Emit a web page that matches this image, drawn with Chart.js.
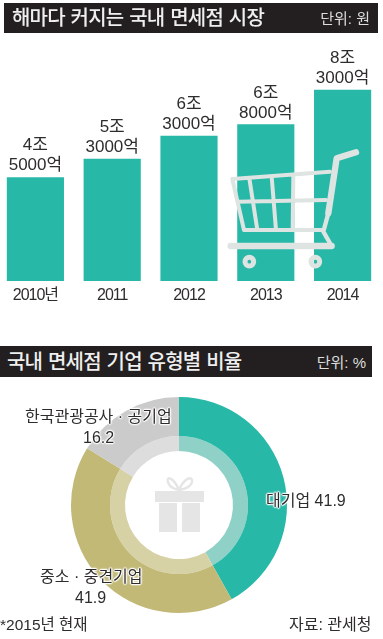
<!DOCTYPE html>
<html lang="ko"><head><meta charset="utf-8">
<script src="https://cdn.jsdelivr.net/npm/chart.js@4/dist/chart.umd.min.js"></script>
<style>
html,body{margin:0;padding:0;background:#fff;overflow:hidden;width:383px;height:639px}
body{position:relative;font-family:"Liberation Sans","Noto Sans CJK KR",sans-serif;color:#2e2c2c}
canvas{position:absolute}
.hd{position:absolute;background:#231f20;color:#efefef;z-index:3}
.t{position:absolute;white-space:nowrap;line-height:1;z-index:4}
.hd .t{color:#efefef}
.title{font-family:"Noto Sans CJK KR",sans-serif;font-size:20px;font-weight:500;letter-spacing:-.8px;word-spacing:1px}
.hd .unit{font-size:15px;color:#ddd}
.lab{font-size:16px;text-shadow:0 0 2px #fff,0 0 2px #fff,0 0 3px #fff,1px 0 1px #fff,-1px 0 1px #fff,0 1px 1px #fff,0 -1px 1px #fff}
.foot{font-size:15.5px}
svg{position:absolute;z-index:2;pointer-events:none}
</style></head><body>
<div class="hd" style="left:4px;top:3px;width:374px;height:30px">
  <div class="t title" style="left:8px;top:4px">해마다 커지는 국내 면세점 시장</div>
  <div class="t unit" style="right:8px;top:8px">단위: 원</div>
</div>
<canvas id="bars" width="384" height="320" style="left:-3px;top:0"></canvas>
<svg style="left:0;top:0" width="383" height="320" viewBox="0 0 1149 960" fill="none" stroke="#dde4e1" stroke-linecap="round" stroke-linejoin="round">
  <path stroke-width="19" d="M1068 457L1010 475L985 640"/>
  <path stroke-width="13" d="M985 640L970 695L995 738"/>
  <path stroke-width="19" d="M692 738H995"/>
  <path stroke-width="12" d="M697 537L990 515M712 605L978 600M732 690H968M697 537L732 690M748 535L772 690M815 530L828 690M880 526L878 690"/>
  <circle cx="748" cy="785" r="13" stroke-width="15"/>
  <circle cx="946" cy="785" r="13" stroke-width="15"/>
</svg>
<div class="hd" style="left:0;top:346px;width:372px;height:31px">
  <div class="t title" style="left:7px;top:5px">국내 면세점 기업 유형별 비율</div>
  <div class="t unit" style="right:6px;top:9px">단위: %</div>
</div>
<canvas id="donut" width="358" height="250" style="left:0;top:380px"></canvas>
<svg style="left:150px;top:470px" width="60" height="66" viewBox="150 470 60 66" fill="#e5e5e5">
  <rect x="155" y="491" width="49" height="11"/>
  <rect x="159" y="503" width="18" height="29"/>
  <rect x="182" y="503" width="18" height="29"/>
  <path fill="none" stroke="#e5e5e5" stroke-width="2.5" d="M179 490C174 478 166 475 168 482C169 487 174 489 179 490C184 478 193 475 192 482C191 487 185 489 179 490Z"/>
</svg>
<div class="t lab" style="left:25px;top:409px">한국관광공사 · 공기업</div>
<div class="t lab" style="left:83px;top:430px">16.2</div>
<div class="t lab" style="left:266px;top:493px">대기업 41.9</div>
<div class="t lab" style="left:40px;top:569px">중소 · 중견기업</div>
<div class="t lab" style="left:75px;top:590px">41.9</div>
<div class="t foot" style="left:0;top:617px">*2015년 현재</div>
<div class="t foot" style="left:289px;top:617px;font-size:16px">자료: 관세청</div>
<script>
const years = ["2010년","2011","2012","2013","2014"];
const marketValues = [4.5,5.3,6.3,6.8,8.3];
const marketLabels = [["4조","5000억"],["5조","3000억"],["6조","3000억"],["6조","8000억"],["8조","3000억"]];
const companyTypes = ["대기업","중소·중견기업","한국관광공사·공기업"];
const companyShares = [41.9,41.9,16.2];
const outerColors = ["#27b8a8","#c2b977","#cbcbcb"];
const innerColors = ["#8fd1c6","#d7d2a6","#dddddd"];

Chart.defaults.animation = false;
const FONT = '"Liberation Sans","Noto Sans CJK KR",sans-serif';

const barLabels = {
  id:"barLabels",
  beforeDraw(c){ c.ctx.letterSpacing="-1px"; },
  afterDatasetsDraw(c){
    const ctx=c.ctx, meta=c.getDatasetMeta(0);
    ctx.save();
    ctx.letterSpacing="0px";
    ctx.font='400 17px '+FONT;
    ctx.fillStyle="#2e2c2c";
    ctx.textAlign="center";
    ctx.textBaseline="alphabetic";
    meta.data.forEach((b,i)=>{
      ctx.fillText(marketLabels[i][1],b.x,b.y-7);
      ctx.fillText(marketLabels[i][0],b.x,b.y-27);
    });
    ctx.restore();
  }
};

new Chart(document.getElementById("bars"),{
  type:"bar",
  data:{labels:years,datasets:[{data:marketValues,backgroundColor:"#27b8a8",barThickness:56.5,borderWidth:0}]},
  options:{
    responsive:false,
    plugins:{legend:{display:false},tooltip:{enabled:false}},
    layout:{padding:0},
    scales:{
      x:{grid:{display:false},border:{display:false},
         ticks:{color:"#2e2c2c",font:{family:FONT,size:16},padding:-3,maxRotation:0,autoSkip:false},
         afterFit(s){s.height=39;}},
      y:{display:false,min:0,max:12.217}
    }
  },
  plugins:[barLabels]
});

new Chart(document.getElementById("donut"),{
  type:"doughnut",
  data:{labels:companyTypes,datasets:[
    {data:companyShares,backgroundColor:outerColors,borderWidth:0,weight:39},
    {data:companyShares,backgroundColor:innerColors,borderWidth:0,weight:15}
  ]},
  options:{
    responsive:false,
    radius:108,cutout:"50%",
    layout:{padding:0},
    plugins:{legend:{display:false},tooltip:{enabled:false}}
  }
});
</script>
</body></html>
